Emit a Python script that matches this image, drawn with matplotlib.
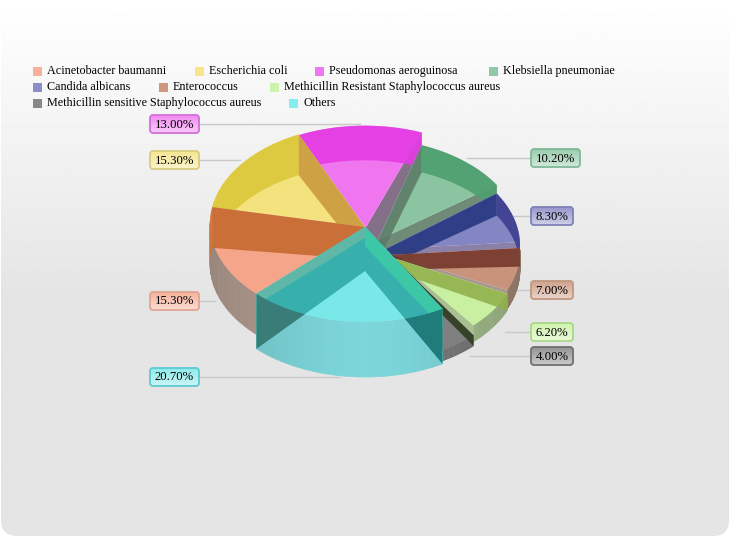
import numpy as np
import matplotlib
matplotlib.use("Agg")
import matplotlib.pyplot as plt
from matplotlib.patches import FancyBboxPatch, Rectangle, Polygon

plt.rcParams["font.family"] = ["Liberation Serif", "DejaVu Serif"]

names = ["Acinetobacter baumanni", "Escherichia coli", "Pseudomonas aeroguinosa",
         "Klebsiella pneumoniae", "Candida albicans", "Enterococcus",
         "Methicillin Resistant Staphylococcus aureus",
         "Methicillin sensitive Staphylococcus aureus", "Others"]
values = [15.3, 15.3, 13.0, 10.2, 8.3, 7.0, 6.2, 4.0, 20.7]

face_col = ["#f5a58a", "#f4e27e", "#f076f0", "#8ac4a0", "#8486c4", "#c8937a", "#c8f0a0", "#808080", "#7ae8e8"]
band_col = ["#cf7338", "#dcc83c", "#e43ce4", "#4f9f70", "#3f3f90", "#73362a", "#90b04a", "#2e3a20", "#40afa8"]
wall_col = ["#b09a8e", "#c8b860", "#b050b0", "#4f9f70", "#3f3f90", "#a08674", "#a0b888", "#747474", "#78d0d4"]
start_wall = [None, None, None, "#5c7a68", "#24367f", "#73362a", "#90b04a", "#2e3a20", "#2ea9a5"]
end_wall = ["#c4682c", "#c99a3c", "#85708a", "#708a78", "#8a80a8", "#a89890", "#a8c090", "#4a4a40", "#2ea9a5"]
box_edge = ["#e0a592", "#d8cc80", "#d070d8", "#80b898", "#8080b8", "#c09880", "#a8d888", "#707070", "#60c8d0"]
legend_col = ["#f8b09a", "#f8e688", "#ee78ee", "#90c8a8", "#8c8ec8", "#cc9880", "#ccf4ac", "#888888", "#84eeee"]

# legend layout, one row per list
legend_rows = [[(33, 0), (195, 1), (315, 2), (489, 3)],
               [(33, 4), (159, 5), (270, 6)],
               [(33, 7), (289, 8)]]
legend_y = [71, 87, 103]

# labels: slice index, box left, box centre y, end of leader line
labels_left = [(2, 150, 124, 360), (1, 150, 160, 240), (0, 150, 301, 215), (8, 150, 377, 340)]
labels_right = [(3, 531, 158, 467), (4, 531, 216, 513), (5, 531, 290, 512),
                (6, 531, 332, 505), (7, 531, 356, 470)]

CX, CY = 365, 223.5      # ellipse of the top face
RX, RY = 155, 98.5
APEX = (365, 227)
H_SCALE = 2.66           # wall height per percent
START = 134.5            # degrees clockwise from east, where the first slice begins


def rim(t):
    a = np.radians(t)
    return CX + RX * np.cos(a), CY + RY * np.sin(a)


def drop(v):
    # low slices sit further down and to the right on the base
    return 1.7 * max(0, 35 - v * H_SCALE)


def apex_of(v):
    d = drop(v)
    return APEX[0] + d * 0.95, APEX[1] + d


def shade(col, k):
    return tuple(min(1, c * k) for c in matplotlib.colors.to_rgb(col))


fig = plt.figure(figsize=(7.30, 5.37), dpi=100)
ax = fig.add_axes([0, 0, 1, 1])
ax.set_xlim(0, 730)
ax.set_ylim(537, 0)
ax.axis("off")

# background card with rounded corners
card = FancyBboxPatch((1, 1), 728, 535, boxstyle="round,pad=0,rounding_size=16", fc="none", ec="none")
ax.add_patch(card)
ys = np.clip(np.linspace(0, 537, 300) / 300.0, 0, 1)
grad = (1.0 - 0.105 * ys)[:, None]
im = ax.imshow(grad, extent=(0, 730, 537, 0), cmap="gray", vmin=0, vmax=1, aspect="auto", zorder=0)
im.set_clip_path(card)

edges = START + np.concatenate([[0], np.cumsum(values)]) * 3.6
order = sorted(range(len(values)), key=lambda i: np.sin(np.radians((edges[i] + edges[i + 1]) / 2)))

# front walls first, split in strips for the soft shading
for i in order:
    h = values[i] * H_SCALE
    dy = drop(values[i])
    ts = np.linspace(edges[i], edges[i + 1], 40)
    for t0, t1 in zip(ts[:-1], ts[1:]):
        a = np.radians((t0 + t1) / 2)
        if np.sin(a) < -0.02:
            continue
        x0, y0 = rim(t0)
        x1, y1 = rim(t1)
        y0, y1 = y0 + dy, y1 + dy
        c = shade(wall_col[i], 1.03 - 0.16 * abs(np.cos(a)) ** 1.5)
        ax.fill([x0, x1, x1, x0], [y0, y1, y1 + h, y0 + h], color=c, lw=0.4, zorder=2)

# step walls between neighbouring slices on different levels
for i in range(2, 7):
    t = edges[i + 1]
    rx, ry = rim(t)
    a0 = apex_of(values[i])
    a1 = apex_of(values[i + 1])
    ax.fill([a0[0], rx, rx, a1[0]], [a0[1], ry + drop(values[i]), ry + drop(values[i + 1]), a1[1]],
            color=end_wall[i], lw=0, zorder=2.8)

last = len(values) - 1
for n, i in enumerate(order):
    z = 3 + n * 0.1
    h = values[i] * H_SCALE
    dy = drop(values[i])
    ax0, ay0 = apex_of(values[i])
    ts = np.linspace(edges[i], edges[i + 1], 60)
    px, py = rim(ts)
    py = py + dy
    ax.fill(np.r_[ax0, px], np.r_[ay0, py], color=face_col[i], lw=0, zorder=z)
    # back wall seen through the top face
    back = np.sin(np.radians(ts)) < 0.02
    if back.any():
        ax.fill(np.r_[px[back], px[back][::-1]], np.r_[py[back], py[back][::-1] + h],
                color=band_col[i], alpha=0.92, lw=0, zorder=z + 0.01)
    # inner walls
    walls = [(edges[i], start_wall[i])]
    if i in (0, 1, last):
        walls.append((edges[i + 1], end_wall[i]))
    for t, col in walls:
        if col is None:
            continue
        rx, ry = rim(t)
        ry = ry + dy
        ax.fill([ax0, rx, rx, ax0], [ay0, ry, ry + h, ay0 + h * 0.8],
                color=col, alpha=0.88, lw=0, zorder=z + 0.02)

# teal core where the lowered slices leave the centre open
for i in range(3, 8):
    a0 = apex_of(values[i])
    a1 = apex_of(values[i + 1])
    ax.fill([APEX[0], a0[0], a1[0]], [APEX[1], a0[1], a1[1] + (14 if i == 7 else 0)],
            color="#2a9fa8", alpha=0.85, lw=0, zorder=3.7)

# light lips along the two edges of the last slice
h = values[last] * H_SCALE
for t, lip, col in ((edges[last + 1], 0.2, "#6dbba6"), (edges[last], 0.35, "#3fcfa5")):
    rx, ry = rim(t)
    ax.fill([APEX[0], rx, rx, APEX[0]], [APEX[1], ry, ry + h * lip, APEX[1] + h * lip],
            color=col, alpha=0.75, lw=0, zorder=4.2)

# the same walls look darker where they pass in front of the outer wall
ts = np.linspace(edges[last], edges[last + 1], 60)
px, py = rim(ts)
below = Polygon(np.c_[np.r_[px, px[::-1]], np.r_[py, py[::-1] + 120]], transform=ax.transData)
for t, col in ((edges[last + 1], "#3a7a76"), (edges[last], "#1f7a78")):
    rx, ry = rim(t)
    w = ax.fill([APEX[0], rx, rx, APEX[0]], [APEX[1], ry, ry + h, APEX[1] + h * 0.8],
                color=col, alpha=0.95, lw=0, zorder=4.3)[0]
    w.set_clip_path(below)


def draw_label(i, left, yc, xend, side):
    w = 49 if values[i] >= 10 else 42
    ax.plot([left + w if side == "L" else xend, xend if side == "L" else left], [yc, yc],
            color="#c8c8c8", lw=1, zorder=1.5)
    box = FancyBboxPatch((left, yc - 9), w, 18, boxstyle="round,pad=0,rounding_size=3",
                         fc="none", ec=box_edge[i], lw=1.3, zorder=6)
    ax.add_patch(box)
    g = np.linspace(0.85, 0.4, 20)[:, None, None] * np.ones((20, 1, 3))
    rgb = np.array(matplotlib.colors.to_rgb(face_col[i]))
    g = 1 - (1 - rgb) * g
    img = ax.imshow(g, extent=(left, left + w, yc + 9, yc - 9), aspect="auto", zorder=5.9)
    img.set_clip_path(box)
    ax.text(left + w / 2, yc + 0.5, f"{values[i]:.2f}%", ha="center", va="center", fontsize=9.2, color="black", zorder=7)


for i, left, yc, xend in labels_left:
    draw_label(i, left, yc, xend, "L")
for i, left, yc, xend in labels_right:
    draw_label(i, left, yc, xend, "R")

for row, y in zip(legend_rows, legend_y):
    for x, i in row:
        ax.add_patch(Rectangle((x, y - 4.5), 9, 9, fc=legend_col[i], ec="none", zorder=5))
        ax.text(x + 14, y, names[i], ha="left", va="center", fontsize=8.7, color="black", zorder=5)

ax.set_xlim(0, 730)
ax.set_ylim(537, 0)
fig.savefig("out.png", dpi=100)
